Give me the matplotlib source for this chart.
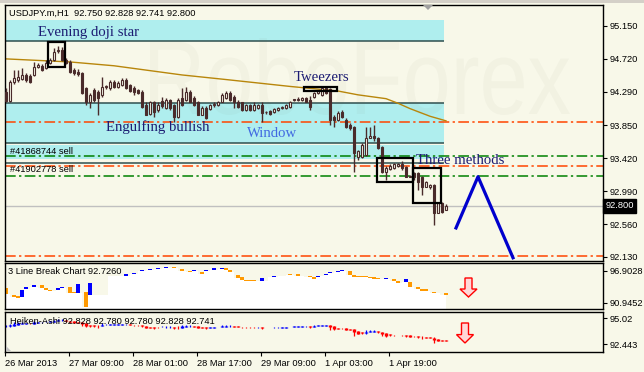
import matplotlib
matplotlib.use("Agg")
import matplotlib.pyplot as plt
import numpy as np
from matplotlib.patches import Rectangle, Polygon, PathPatch
from matplotlib.textpath import TextPath
from matplotlib.font_manager import FontProperties
from matplotlib.transforms import Affine2D, blended_transform_factory

plt.rcParams["font.family"] = ["Liberation Sans", "DejaVu Sans"]

# ---- hourly candles, USDJPY.m H1 (26 Mar 17:00 onwards) ----
opens = [94.29, 94.17, 94.42, 94.45, 94.46, 94.51, 94.50, 94.51, 94.62, 94.63,
         94.60, 94.67, 94.71, 94.82, 94.84, 94.71, 94.68, 94.58, 94.55, 94.54,
         94.34, 94.16, 94.31, 94.29, 94.25, 94.35, 94.34, 94.42, 94.35, 94.38,
         94.45, 94.38, 94.34, 94.31, 94.29, 94.12, 94.00, 94.15, 94.05, 94.17,
         94.08, 94.18, 94.12, 93.96, 94.21, 94.18, 94.29, 94.21, 94.15, 93.99,
         94.08, 94.07, 94.12, 94.12, 94.16, 94.21, 94.28, 94.22, 94.16, 94.15,
         94.05, 94.12, 94.05, 94.08, 94.12, 94.03, 94.04, 94.03, 94.05, 94.08,
         94.08, 94.09, 94.18, 94.18, 94.18, 94.21, 94.18, 94.22, 94.28, 94.25,
         94.34, 94.33, 93.96, 93.92, 94.03, 93.92, 93.86, 93.83, 93.44, 93.44,
         93.47, 93.69, 93.71, 93.69, 93.57, 93.24, 93.28, 93.30, 93.32, 93.35,
         93.31, 93.18, 93.23, 93.23, 93.18, 93.05, 93.04, 93.07, 92.71, 92.84, 92.750]
highs = [94.34, 94.45, 94.58, 94.58, 94.60, 94.54, 94.52, 94.68, 94.67, 94.65,
         94.71, 94.73, 94.86, 94.89, 94.88, 94.73, 94.71, 94.60, 94.59, 94.55,
         94.35, 94.28, 94.34, 94.31, 94.48, 94.38, 94.45, 94.45, 94.43, 94.47,
         94.47, 94.39, 94.37, 94.33, 94.31, 94.15, 94.17, 94.17, 94.15, 94.22,
         94.21, 94.20, 94.13, 94.21, 94.34, 94.35, 94.31, 94.24, 94.17, 94.11,
         94.11, 94.13, 94.15, 94.17, 94.28, 94.30, 94.30, 94.25, 94.18, 94.16,
         94.13, 94.13, 94.15, 94.13, 94.15, 94.04, 94.05, 94.08, 94.09, 94.11,
         94.13, 94.17, 94.20, 94.22, 94.22, 94.22, 94.24, 94.29, 94.31, 94.35,
         94.35, 94.34, 93.99, 94.04, 94.05, 93.95, 93.88, 93.84, 93.53, 93.62,
         93.83, 93.83, 93.86, 93.70, 93.58, 93.32, 93.35, 93.36, 93.36, 93.38,
         93.32, 93.20, 93.24, 93.24, 93.19, 93.13, 93.09, 93.09, 92.85, 92.85, 92.828]
lows = [94.15, 94.16, 94.39, 94.42, 94.45, 94.42, 94.41, 94.50, 94.60, 94.56,
        94.59, 94.65, 94.69, 94.80, 94.69, 94.65, 94.54, 94.51, 94.50, 94.26,
        94.12, 94.08, 94.16, 93.99, 94.22, 94.33, 94.31, 94.34, 94.34, 94.37,
        94.33, 94.29, 94.25, 94.26, 94.08, 93.98, 93.99, 93.96, 94.03, 94.08,
        94.07, 94.05, 93.90, 93.95, 94.11, 94.17, 94.15, 94.11, 93.98, 93.98,
        93.94, 94.05, 94.09, 94.11, 94.15, 94.20, 94.17, 94.08, 94.08, 94.04,
        94.04, 94.04, 94.04, 94.07, 93.90, 94.00, 93.99, 94.01, 94.04, 94.07,
        94.07, 94.08, 94.17, 94.17, 94.17, 94.15, 94.05, 94.21, 94.26, 94.24,
        94.26, 93.86, 93.83, 93.91, 93.95, 93.82, 93.79, 93.24, 93.40, 93.43,
        93.45, 93.68, 93.65, 93.54, 93.23, 93.14, 93.27, 93.28, 93.31, 93.27,
        93.17, 93.17, 93.14, 93.01, 92.94, 93.04, 93.02, 92.55, 92.70, 92.71, 92.741]
closes = [94.17, 94.42, 94.47, 94.48, 94.51, 94.45, 94.42, 94.62, 94.64, 94.58,
          94.67, 94.71, 94.81, 94.84, 94.71, 94.67, 94.55, 94.54, 94.52, 94.28,
          94.16, 94.25, 94.18, 94.21, 94.35, 94.36, 94.42, 94.35, 94.41, 94.45,
          94.34, 94.30, 94.29, 94.28, 94.09, 93.99, 94.15, 94.03, 94.12, 94.11,
          94.18, 94.08, 93.96, 94.18, 94.12, 94.29, 94.16, 94.12, 93.99, 94.08,
          93.95, 94.12, 94.13, 94.15, 94.25, 94.28, 94.18, 94.15, 94.09, 94.05,
          94.12, 94.05, 94.12, 94.12, 94.01, 94.02, 94.00, 94.07, 94.08, 94.09,
          94.12, 94.16, 94.19, 94.20, 94.21, 94.16, 94.09, 94.28, 94.30, 94.34,
          94.28, 93.92, 93.92, 94.01, 93.96, 93.83, 93.82, 93.49, 93.51, 93.60,
          93.69, 93.71, 93.68, 93.56, 93.24, 93.30, 93.32, 93.34, 93.34, 93.30,
          93.18, 93.19, 93.17, 93.11, 93.05, 93.11, 93.07, 92.71, 92.84, 92.72, 92.800]

# moving average, read at a few bars
ma_idx = [0, 16, 27, 44, 55, 71, 83, 88, 95, 98, 101, 106, 110]
ma_vals = [94.72, 94.68, 94.63, 94.51, 94.45, 94.36, 94.30, 94.25, 94.20, 94.14, 94.07, 93.97, 93.91]

# drawn objects on the price chart
band_ranges = [(94.954, 95.228), (93.620, 94.143), (93.405, 93.588)]
band_edges = [94.954, 94.143, 93.620, 93.359]
red_levels = [93.895, 93.320, 92.137]
green_levels = [93.450, 93.189]
last_price = 92.800
pattern_boxes = [(10.5, 14.75, 94.613, 94.940),   # evening doji star
                 (74.5, 82.75, 94.300, 94.352),   # tweezers
                 (92.75, 101.75, 93.110, 93.424),  # three methods 1
                 (101.75, 108.75, 92.840, 93.293)]  # three methods 2
zig_idx = [112.5, 118.0, 126.75]
zig_price = [92.51, 93.18, 92.12]
price_ticks = [95.150, 94.720, 94.290, 93.850, 93.420, 92.990, 92.560, 92.130]

# 3 line break bricks: bar index, low, high, up
lb_idx = [0, 2, 3, 4, 5, 7, 9, 10, 11, 12, 13, 14, 16, 17, 18, 20, 21,
          30, 32, 34, 36, 38, 40, 42, 44, 46, 47, 49, 50, 52, 54, 55, 56,
          58, 59, 60, 61, 62, 64, 67, 69, 71, 73, 76, 77, 78, 79, 80, 81,
          83, 84, 86, 87, 88, 89, 90, 91, 92, 93, 95, 97, 98, 100, 101,
          103, 104, 105, 107, 110]
lb_low = [92.62, 92.06, 91.87, 92.06, 93.55, 93.92, 93.74, 93.36, 93.18, 93.10, 93.36, 93.74,
          92.80, 92.80, 92.80, 90.20, 92.43,
          95.97, 96.34, 96.90, 97.09, 97.28, 97.46, 97.46, 96.90, 96.72, 96.90, 96.34, 96.90,
          97.09, 97.28, 97.09, 96.72,
          95.60, 95.23, 95.04, 95.04, 95.04, 95.04, 95.79, 95.88, 96.16, 95.97, 95.79, 95.41,
          95.79, 95.88, 96.16, 96.53,
          96.72, 96.90, 96.16, 95.79, 95.79, 95.79, 95.79, 95.60, 95.41, 95.41, 95.41, 95.04,
          94.67, 94.85, 93.92,
          93.55, 93.18, 93.18, 92.80, 92.43]
lb_high = [93.74, 92.43, 92.25, 93.36, 93.92, 94.30, 94.30, 93.74, 93.36, 93.27, 93.74, 93.92,
           93.92, 92.99, 94.48, 92.99, 94.67,
           96.34, 96.53, 97.09, 97.28, 97.46, 97.65, 97.65, 97.28, 96.90, 97.09, 96.72, 97.09,
           97.46, 97.46, 97.46, 97.09,
           96.16, 95.79, 95.23, 95.23, 95.23, 95.60, 95.97, 96.06, 96.34, 96.34, 95.97, 95.79,
           95.97, 96.06, 96.34, 96.72,
           96.90, 97.09, 96.90, 96.16, 95.97, 95.97, 95.97, 95.79, 95.79, 95.60, 95.60, 95.41,
           95.04, 95.41, 94.85,
           93.92, 93.55, 93.55, 92.99, 92.80]
lb_up = [0, 0, 0, 1, 1, 1, 0, 0, 0, 0, 1, 1, 0, 0, 1, 0, 1,
         1, 1, 1, 1, 1, 1, 0, 0, 0, 1, 0, 1, 1, 1, 0, 0,
         0, 0, 0, 0, 0, 1, 1, 1, 0, 0, 0, 0, 1, 1, 1, 1,
         1, 1, 0, 0, 0, 0, 0, 0, 0, 0, 1, 0, 0, 1, 0,
         0, 0, 0, 0, 0]

time_labels = ["26 Mar 2013", "27 Mar 09:00", "28 Mar 01:00", "28 Mar 17:00",
               "29 Mar 09:00", "1 Apr 03:00", "1 Apr 19:00"]

W, H = 644, 372
BG = "#F8F8E9"
CANDLE = "#4A2B2B"
NAVY = "#1C1C73"
FS = 6.7

fig = plt.figure(figsize=(W / 100, H / 100), dpi=100, facecolor=BG)


def panel(top, bottom):
    a = fig.add_axes([5 / W, 1 - bottom / H, 598 / W, (bottom - top) / H])
    a.set_facecolor(BG)
    a.set_xlim(-0.25, 149.25)
    for s in a.spines.values():
        s.set_color("black")
        s.set_linewidth(1)
    a.yaxis.tick_right()
    a.tick_params(axis="y", direction="out", length=3, width=0.8, pad=1.5,
                  labelsize=FS, colors="black")
    a.set_xticks([])
    return a


ax = panel(5, 261)
lb = panel(263, 309)
ha = panel(312, 352)

# ---- main price chart ----
ax.set_ylim(92.0777, 95.4245)
ax.set_yticks(price_ticks)
ax.set_yticklabels([f"{v:.3f}" for v in price_ticks])

for lo, hi in band_ranges:
    ax.fill_between([-0.25, 109.5], lo, hi, color="#AFEEEE", lw=0, zorder=0.5)
ax.hlines(band_edges, -0.25, 109.5, color="#2F4F4F", lw=1.1, zorder=1)
ax.hlines(red_levels, -0.25, 149.25, color="#FF4500", lw=1.1,
          linestyles=[(0, (7, 2.2, 1.5, 2.2))], zorder=1)
ax.hlines(green_levels, -0.25, 149.25, color="#008000", lw=1.1,
          linestyles=[(0, (7, 2.2, 1.5, 2.2))], zorder=1)
ax.axhline(last_price, color="#C0C0C0", lw=1, zorder=1)

# watermark
tp = TextPath((0, 0), "RoboForex", size=100, prop=FontProperties(family="Liberation Sans"))
bb = tp.get_extents()
trans = Affine2D().translate(-bb.x0, -bb.y0).scale(420 / bb.width, 77 / bb.height).translate(150, H - 115)
ax.add_patch(PathPatch(tp, transform=trans, fc="#707050", ec="none", alpha=0.045, zorder=1.5))

ax.plot(ma_idx, ma_vals, color="#B8860B", lw=1, zorder=2)

o, h, l, c = map(np.array, (opens, highs, lows, closes))
idx = np.arange(len(c))
up = c >= o
ax.vlines(idx, l, h, color=CANDLE, lw=1, zorder=3)
ax.bar(idx[up], (c - o)[up], bottom=o[up], width=0.6, facecolor=BG,
       edgecolor=CANDLE, lw=0.8, zorder=4)
ax.bar(idx[~up], (c - o)[~up], bottom=o[~up], width=0.6, facecolor=CANDLE,
       edgecolor=CANDLE, lw=0.8, zorder=4)

for x0, x1, y0, y1 in pattern_boxes:
    ax.add_patch(Rectangle((x0, y0), x1 - x0, y1 - y0, fill=False, ec="black",
                           lw=1.6, zorder=5))

ax.plot(zig_idx, zig_price, color="#0000CD", lw=2.3, zorder=5, clip_on=False)

serif = dict(family="Liberation Serif", fontsize=10.6, color=NAVY, zorder=6)
ax.text(20.5, 95.07, "Evening doji star", ha="center", va="center", **serif)
ax.text(79, 94.48, "Tweezers", ha="center", va="center", **serif)
ax.text(38, 93.83, "Engulfing bullish", ha="center", va="center", **serif)
ax.text(102.5, 93.39, "Three methods", ha="left", va="center", **serif)
ax.text(66.5, 93.74, "Window", ha="center", va="center", family="Liberation Serif",
        fontsize=10.6, color="#4169E1", zorder=6)

fig.text(9 / W, 1 - 13 / H, "USDJPY.m,H1  92.750 92.828 92.741 92.800", fontsize=FS,
         va="center", ha="left")
fig.text(10 / W, 1 - 151 / H, "#41868744 sell", fontsize=FS, va="center", ha="left")
fig.text(10 / W, 1 - 170 / H, "#41902778 sell", fontsize=FS, va="center", ha="left")

ax.text(1.004, last_price, f"{last_price:.3f}", transform=blended_transform_factory(ax.transAxes, ax.transData),
        color="white", fontsize=FS, va="center", ha="left",
        bbox=dict(boxstyle="square,pad=0.25", fc="black", ec="black"))

# ---- 3 line break ----
lb.set_ylim(89.828, 98.392)
lb.set_yticks([96.9028, 90.9452])
lb.set_yticklabels(["96.9028", "90.9452"])
lb_lo = np.array(lb_low)
lb_hi = np.array(lb_high)
lb.fill_between(lb_idx, lb_lo, 89.828, step="mid", color="white", lw=0, zorder=0.5)
lb.bar(lb_idx, lb_hi - lb_lo, bottom=lb_lo, width=0.9,
       color=["#0000FF" if u else "#FF9900" for u in lb_up], lw=0, zorder=2)
fig.text(8 / W, 1 - 272 / H, "3 Line Break Chart 92.7260", fontsize=FS, va="center", ha="left")

# ---- heiken ashi ----
ha.set_ylim(91.650, 95.615)
ha.set_yticks([95.02, 92.443])
ha.set_yticklabels(["95.02", "92.443"])
ha_c = (o + h + l + c) / 4
ha_o = np.empty_like(ha_c)
ha_o[0] = (o[0] + c[0]) / 2
for i in range(1, len(ha_c)):
    ha_o[i] = (ha_o[i - 1] + ha_c[i - 1]) / 2
ha_h = np.maximum(h, np.maximum(ha_o, ha_c))
ha_l = np.minimum(l, np.minimum(ha_o, ha_c))
cols = np.where(ha_c >= ha_o, "#0000FF", "#FF0000")
ha.vlines(idx, ha_l, ha_h, colors=cols, lw=0.9, zorder=2)
ha.vlines(idx, ha_o, ha_c, colors=cols, lw=2.4, zorder=3)
fig.text(10 / W, 1 - 321 / H, "Heiken-Ashi 92.828 92.780 92.780 92.828 92.741",
         fontsize=FS, va="center", ha="left")

ha.set_xticks([-0.25 + 16 * k for k in range(len(time_labels))])
ha.set_xticklabels(time_labels)
ha.tick_params(axis="x", direction="out", length=3, width=0.8, pad=2, labelsize=FS)
for t in ha.get_xticklabels():
    t.set_ha("left")


# down arrows in the indicator windows
def down_arrow(axis, cx, top, bottom, p_top, p_bottom):
    neck = top + 0.58 * (bottom - top)
    pts = [(cx - 3.5, top), (cx + 3.5, top), (cx + 3.5, neck), (cx + 8.5, neck),
           (cx, bottom), (cx - 8.5, neck), (cx - 3.5, neck)]
    pts = [((x - 5) / 598, (p_bottom - y) / (p_bottom - p_top)) for x, y in pts]
    axis.add_patch(Polygon(pts, closed=True, transform=axis.transAxes,
                           fc="#FFD8D8", ec="#FF0000", lw=1, zorder=6))


down_arrow(lb, 468.5, 278, 297, 263, 309)
down_arrow(ha, 465, 323, 343, 312, 352)

# window decorations
fig.add_artist(Rectangle((0, 1 - 3 / H), 1, 3 / H, transform=fig.transFigure,
                         color="#D4D0C8", lw=0))
fig.add_artist(Polygon([(423 / W, 1 - 5 / H), (433 / W, 1 - 5 / H), (428 / W, 1 - 10 / H)],
                       transform=fig.transFigure, color="#A0A0A0", lw=0))
fig.add_artist(Polygon([(6 / W, 1 - 346 / H), (6 / W, 1 - 351 / H), (11 / W, 1 - 351 / H)],
                       transform=fig.transFigure, color="#C0C0C0", lw=0))

fig.savefig("out.png", dpi=100, facecolor=BG)
